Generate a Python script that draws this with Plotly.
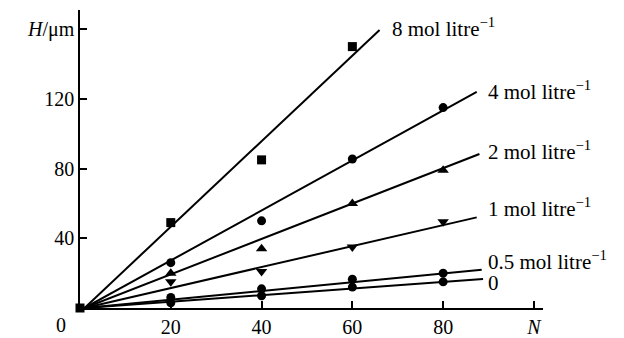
import plotly.graph_objects as go

# ---- data ----
N_8 = [0, 20, 40, 60]
H_8 = [0, 49, 85, 150]
N_obs = [20, 40, 60, 80]
H_4 = [26, 50, 85.5, 115]
H_2 = [20, 34, 60, 79]
H_1 = [15, 21, 35, 49.5]
H_05 = [6, 11, 16.5, 20]
H_0 = [3, 7, 12, 15]

labels = ["8 mol litre<sup>−1</sup>", "4 mol litre<sup>−1</sup>", "2 mol litre<sup>−1</sup>",
          "1 mol litre<sup>−1</sup>", "0.5 mol litre<sup>−1</sup>", "0"]
symbols = ["square", "circle", "triangle-up", "triangle-down", "circle", "circle"]

# fitted straight lines: start and end points
fit_start_N = [1, 1, 1, 1, 1, 1]
fit_start_H = [0, 0, 0, 0, 0, 0]
fit_end_N = [66, 87.4, 88, 87.4, 88.5, 88.8]
fit_end_H = [159.5, 124, 88.4, 52, 22, 16.6]

# label anchor positions
label_N = [68.2, 89.5, 89.5, 89.5, 89.5, 89.5]
label_H = [161, 125, 90.6, 57.4, 27.5, 14.3]

x_tickvals = [20, 40, 60, 80, 100]
x_ticktext = ["20", "40", "60", "80", "<i>N</i>"]
y_tickvals = [40, 80, 120, 160]
y_ticktext = ["40", "80", "120", "<i>H</i>/μm"]

series_N = [N_8, N_obs, N_obs, N_obs, N_obs, N_obs]
series_H = [H_8, H_4, H_2, H_1, H_05, H_0]

FONT = "Liberation Serif"
tfont = dict(family=FONT, size=20, color="black")
lfont = dict(family=FONT, size=21, color="black")

fig = go.Figure()
for i in range(len(labels)):
    fig.add_trace(go.Scatter(
        x=[fit_start_N[i], fit_end_N[i]], y=[fit_start_H[i], fit_end_H[i]],
        mode="lines", line=dict(color="black", width=2), showlegend=False,
        hoverinfo="skip"))
for i in range(len(labels)):
    sz = 9 if symbols[i] == "square" else (10 if "triangle" in symbols[i] else 9)
    fig.add_trace(go.Scatter(
        x=series_N[i], y=series_H[i], mode="markers",
        marker=dict(symbol=symbols[i], color="black", size=sz, line=dict(width=0)),
        showlegend=False, cliponaxis=False))
    fig.add_annotation(x=label_N[i], y=label_H[i], text=labels[i], showarrow=False,
                       xanchor="left", yanchor="middle", font=lfont)

fig.add_annotation(xref="paper", yref="paper", x=-0.041, y=-0.057, text="0",
                   showarrow=False, xanchor="center", yanchor="middle", font=tfont)

# the page body has an 8px margin, so margins are shifted accordingly
fig.update_layout(
    width=624, height=338,
    margin=dict(l=72, r=89, t=2, b=38),
    paper_bgcolor="white", plot_bgcolor="white",
    font=tfont,
)
fig.update_xaxes(range=[0, 102], showgrid=False, zeroline=False, showline=True,
                 linecolor="black", linewidth=1.5, ticks="inside", ticklen=7,
                 tickwidth=1.5, tickcolor="black", tickvals=x_tickvals,
                 ticktext=x_ticktext, tickfont=tfont, automargin=False)
fig.update_yaxes(range=[0, 171], showgrid=False, zeroline=False, showline=True,
                 linecolor="black", linewidth=1.5, ticks="inside", ticklen=7,
                 tickwidth=1.5, tickcolor="black", tickvals=y_tickvals,
                 ticktext=y_ticktext, tickfont=tfont, automargin=False)

fig.write_html("out.html")
